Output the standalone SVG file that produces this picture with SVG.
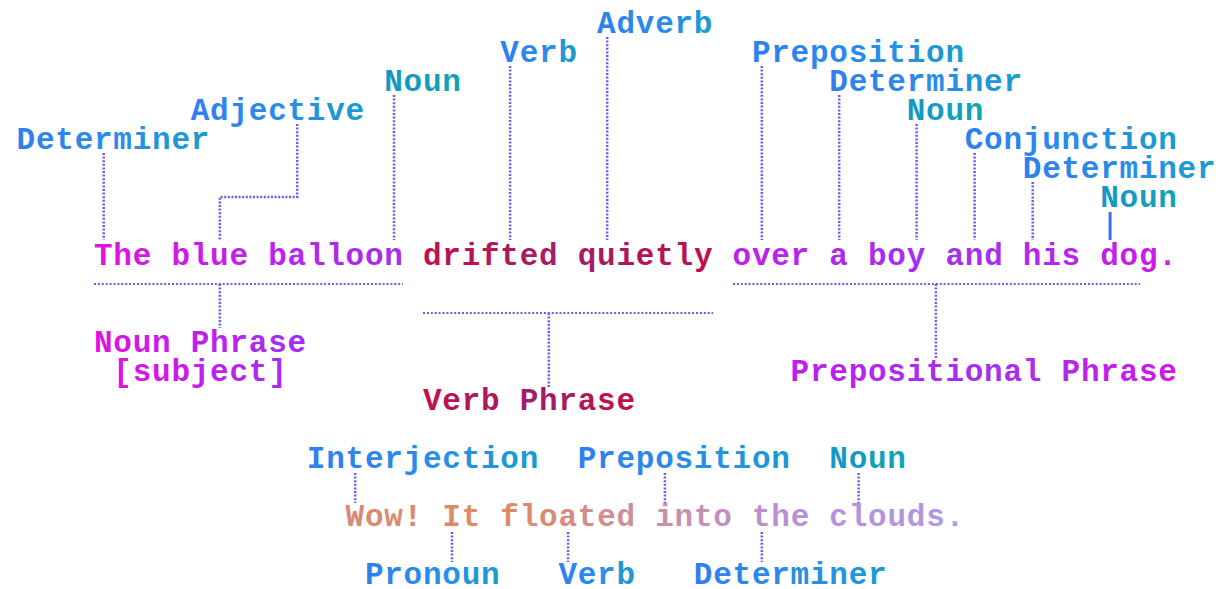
<svg xmlns="http://www.w3.org/2000/svg" width="1223" height="589" viewBox="0 0 1223 589">
<defs>
<linearGradient id="gLbl" x1="0" y1="0" x2="1" y2="0"><stop offset="0" stop-color="#2f7ff0"/><stop offset="0.6" stop-color="#2a8ee6"/><stop offset="1" stop-color="#1a9ccc"/></linearGradient>
<linearGradient id="gNoun" x1="0" y1="0" x2="1" y2="0"><stop offset="0" stop-color="#1496c8"/><stop offset="1" stop-color="#12a4b4"/></linearGradient>
<linearGradient id="gNP" x1="0" y1="0" x2="1" y2="0"><stop offset="0" stop-color="#e012e0"/><stop offset="0.5" stop-color="#c020ee"/><stop offset="1" stop-color="#a030f0"/></linearGradient>
<linearGradient id="gVP" x1="0" y1="0" x2="1" y2="0"><stop offset="0" stop-color="#c0104a"/><stop offset="0.5" stop-color="#a01e6a"/><stop offset="1" stop-color="#c0104a"/></linearGradient>
<linearGradient id="gPP" x1="0" y1="0" x2="1" y2="0"><stop offset="0" stop-color="#c01ef0"/><stop offset="0.5" stop-color="#a032f0"/><stop offset="1" stop-color="#d018e8"/></linearGradient>
<linearGradient id="gS2" x1="0" y1="0" x2="1" y2="0"><stop offset="0" stop-color="#d88a78"/><stop offset="0.25" stop-color="#e08a60"/><stop offset="0.5" stop-color="#c890a8"/><stop offset="0.75" stop-color="#b890d8"/><stop offset="1" stop-color="#b098e6"/></linearGradient>
</defs>
<style>
text{font-family:"Liberation Mono","DejaVu Sans Mono",monospace;font-weight:bold;font-size:31px;letter-spacing:0.75px}
.lbl{fill:url(#gLbl)}
.noun{fill:url(#gNoun)}
.np{fill:url(#gNP)}
.vp{fill:url(#gVP)}
.pp{fill:url(#gPP)}
.s2{fill:url(#gS2)}
.c{fill:none;stroke:#6a5cf0;stroke-width:2.5;stroke-dasharray:2 1.6}
.h{fill:none;stroke:#6a5cf0;stroke-width:2;stroke-dasharray:2 1.9}
.solid{fill:none;stroke:#3a72e8;stroke-width:3}
</style>
<g id="connectors">
<path class="c" d="M103.7 153V240"/>
<path class="c" d="M297.2 124V197H219.8V240"/>
<path class="c" d="M394 95V240"/>
<path class="c" d="M510.1 66V240"/>
<path class="c" d="M607.2 37V240"/>
<path class="c" d="M761.8 66V240"/>
<path class="c" d="M839.2 95V240"/>
<path class="c" d="M916.6 124V240"/>
<path class="c" d="M974.6 153V240"/>
<path class="c" d="M1032.7 182V240"/>
<path class="solid" d="M1110.1 212V240"/>
<path class="h" d="M94 284H403"/>
<path class="c" d="M219.8 284V328"/>
<path class="h" d="M423 313H713"/>
<path class="c" d="M548.8 313V387"/>
<path class="h" d="M733 284H1140"/>
<path class="c" d="M935.9 284V358"/>
<path class="c" d="M355.2 473V503"/>
<path class="c" d="M664.9 473V503"/>
<path class="c" d="M858.6 473V503"/>
<path class="c" d="M452 532V562"/>
<path class="c" d="M568.1 532V562"/>
<path class="c" d="M761.8 532V562"/>
</g>
<g id="label-determiner1"><text class="lbl" x="16.6" y="149">Determiner</text></g>
<g id="label-adjective"><text class="lbl" x="190.75" y="120">Adjective</text></g>
<g id="label-noun1"><text class="noun" x="384.25" y="91">Noun</text></g>
<g id="label-verb1"><text class="lbl" x="500.35" y="62">Verb</text></g>
<g id="label-adverb"><text class="lbl" x="597.1" y="33">Adverb</text></g>
<g id="label-preposition1"><text class="lbl" x="751.9" y="62">Preposition</text></g>
<g id="label-determiner2"><text class="lbl" x="829.3" y="91">Determiner</text></g>
<g id="label-noun2"><text class="noun" x="906.7" y="120">Noun</text></g>
<g id="label-conjunction"><text class="lbl" x="964.75" y="149">Conjunction</text></g>
<g id="label-determiner3"><text class="lbl" x="1022.8" y="178">Determiner</text></g>
<g id="label-noun3"><text class="noun" x="1100.2" y="207">Noun</text></g>
<g id="sentence1">
<text class="np" x="94" y="265">The blue balloon</text>
<text class="vp" x="422.95" y="265">drifted quietly</text>
<text class="pp" x="732.55" y="265">over a boy and his dog.</text>
</g>
<g id="noun-phrase"><text class="np" x="94" y="352">Noun Phrase</text><text class="np" x="113.35" y="381">[subject]</text></g>
<g id="verb-phrase"><text class="vp" x="422.95" y="410">Verb Phrase</text></g>
<g id="prepositional-phrase"><text class="pp" x="790.6" y="381">Prepositional Phrase</text></g>
<g id="label-interjection"><text class="lbl" x="306.85" y="468">Interjection</text></g>
<g id="label-preposition2"><text class="lbl" x="577.75" y="468">Preposition</text></g>
<g id="label-noun4"><text class="noun" x="829.3" y="468">Noun</text></g>
<g id="sentence2"><text class="s2" x="345.55" y="526">Wow! It floated into the clouds.</text></g>
<g id="label-pronoun"><text class="lbl" x="364.9" y="584">Pronoun</text></g>
<g id="label-verb2"><text class="lbl" x="558.4" y="584">Verb</text></g>
<g id="label-determiner4"><text class="lbl" x="693.85" y="584">Determiner</text></g>
</svg>
